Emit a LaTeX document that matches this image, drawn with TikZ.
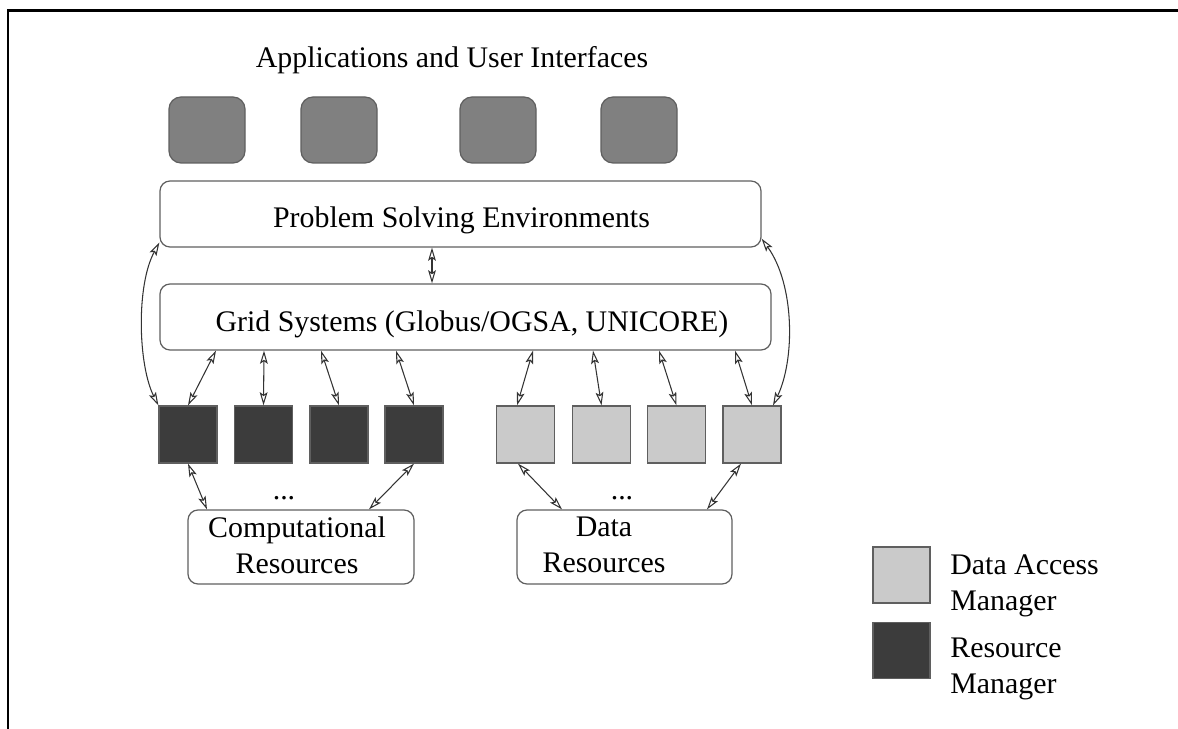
\documentclass[tikz,border=0pt]{standalone}
\usepackage{fontspec}
\setmainfont{Liberation Serif}
\usetikzlibrary{arrows.meta}

\definecolor{appgray}{RGB}{128,128,128}
\definecolor{rmgray}{RGB}{60,60,60}
\definecolor{damgray}{RGB}{202,202,202}
\definecolor{edgegray}{RGB}{95,95,95}

\begin{document}
\begin{tikzpicture}[
  x = 0.2mm,
  y = -0.2mm,
  every node/.style = {
    inner sep = 0pt,
    font = \fontsize{17}{20.5}\selectfont
  },
  app/.style = {
    rectangle,
    rounded corners = 2.4mm,
    draw = edgegray,
    fill = appgray,
    line width = 0.7pt,
    minimum width = 15.2mm,
    minimum height = 13.2mm
  },
  layer/.style = {
    rectangle,
    rounded corners = 2mm,
    draw = edgegray,
    line width = 0.7pt,
    minimum height = 13.2mm
  },
  rm/.style = {
    rectangle,
    draw = edgegray,
    fill = rmgray,
    line width = 0.7pt,
    minimum width = 11.6mm,
    minimum height = 11.4mm
  },
  dam/.style = {
    rm,
    fill = damgray
  },
  store/.style = {
    layer,
    minimum height = 14.8mm
  },
  link/.style = {
    <->,
    draw = black!80,
    line width = 0.6pt
  },
  >={Stealth[length = 7.5pt, width = 4.4pt, inset = 1.5pt, open]}
]
  \useasboundingbox (0, 0) rectangle (1178, 729);
  \draw[line width = 1.7pt] (8, 729) -- (8, 10.5) -- (1178, 10.5);

  % applications
  \node[anchor = base] (title) at (452, 68) {Applications and User Interfaces};
  \node[app] (app1) at (207, 130) {};
  \node[app] (app2) at (339, 130) {};
  \node[app] (app3) at (498, 130) {};
  \node[app] (app4) at (639, 130) {};

  % middleware layers
  \node[layer, minimum width = 120.2mm] (pse) at (460.5, 214) {};
  \node[anchor = base] (pseText) at (461.5, 228) {Problem Solving Environments};
  \node[layer, minimum width = 122.2mm] (grid) at (465.5, 317) {};
  \node[anchor = base] (gridText) at (472, 332) {Grid Systems (Globus/OGSA, UNICORE)};

  % resource managers and data access managers
  \node[rm] (rm1) at (188, 434.5) {};
  \node[rm] (rm2) at (263.5, 434.5) {};
  \node[rm] (rm3) at (339, 434.5) {};
  \node[rm] (rm4) at (414, 434.5) {};

  \node[dam] (dam1) at (525.5, 434.5) {};
  \node[dam] (dam2) at (601.5, 434.5) {};
  \node[dam] (dam3) at (676.5, 434.5) {};
  \node[dam] (dam4) at (752, 434.5) {};

  % resources
  \node[anchor = base] (compDots) at (284, 500) {...};
  \node[anchor = base] (dataDots) at (622, 500) {...};
  \node[store, minimum width = 45.2mm] (comp) at (301, 547) {};
  \node[align = center] (compText) at (297, 545) {Computational\\Resources};
  \node[store, minimum width = 43mm] (data) at (624.5, 547) {};
  \node[align = center] (dataText) at (604, 545) {Data\\Resources};

  % legend
  \node[dam, minimum width = 11.4mm, minimum height = 11.2mm] (keyDam) at (901.5, 575) {};
  \node[rm, minimum width = 11.4mm, minimum height = 11.2mm] (keyRm) at (901.5, 650.5) {};
  \node[anchor = west, align = left] (keyDamText) at (950, 586) {Data Access\\Manager};
  \node[anchor = west, align = left] (keyRmText) at (950, 669) {Resource\\Manager};

  \coordinate (pseTap) at ([xshift = -5.7mm]pse.south);
  \draw[link] (pseTap) -- (pseTap |- grid.north);

  \draw[link] ([xshift = -49.9mm]grid.south) -- (rm1.north);
  \draw[link] ([xshift = -40.3mm]grid.south) -- (rm2.north);
  \draw[link] ([xshift = -28.9mm]grid.south) -- (rm3.north);
  \draw[link] ([xshift = -13.9mm]grid.south) -- (rm4.north);
  \draw[link] ([xshift = 13.5mm]grid.south) -- ([xshift = -1.7mm]dam1.north);
  \draw[link] ([xshift = 25.5mm]grid.south) -- (dam2.north);
  \draw[link] ([xshift = 38.7mm]grid.south) -- (dam3.north);
  \draw[link] ([xshift = 53.9mm]grid.south) -- (dam4.north);

  \draw[link] ([yshift = 1mm]pse.south west)
    .. controls (136, 285) and (138, 365) .. (rm1.north west);
  \draw[link] ([yshift = 1.8mm]pse.south east)
    .. controls (795, 285) and (795, 360) .. ([xshift = 4.2mm]dam4.north);

  \draw[link] (rm1.south) -- ([xshift = -18.8mm]comp.north);
  \draw[link] (rm4.south) -- ([xshift = 13.6mm]comp.north);
  \draw[link] ([xshift = -1.5mm]dam1.south) -- ([xshift = -12.5mm]data.north);
  \draw[link] ([xshift = -2.2mm]dam4.south) -- ([xshift = 16.5mm]data.north);
\end{tikzpicture}
\end{document}
